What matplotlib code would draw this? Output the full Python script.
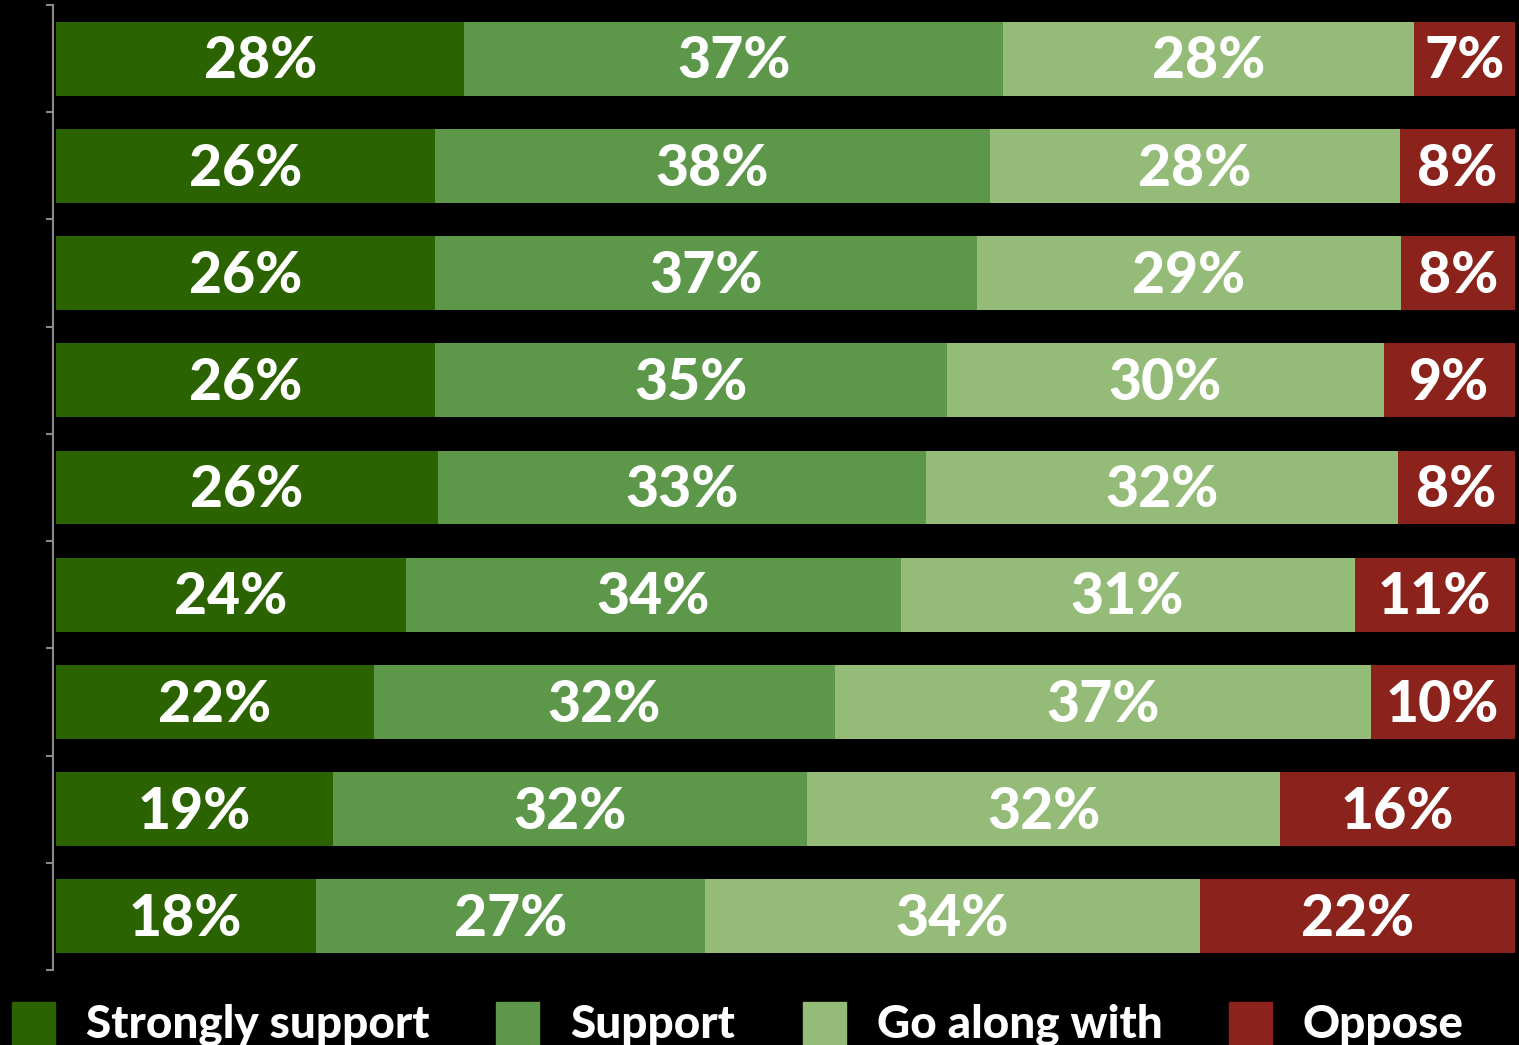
import matplotlib
matplotlib.use('Agg')
import matplotlib.pyplot as plt
from matplotlib.patches import Rectangle
import numpy as np

# Survey responses, one row per bar (top to bottom)
series_names = ['Strongly support', 'Support', 'Go along with', 'Oppose']
strongly_support = [28.0, 26.0, 26.0, 26.0, 26.2, 24.0, 21.8, 19.0, 17.8]
support = [36.9, 38.0, 37.1, 35.1, 33.4, 33.9, 31.6, 32.5, 26.7]
go_along = [28.2, 28.1, 29.1, 29.9, 32.4, 31.1, 36.7, 32.4, 33.9]
oppose = [6.9, 7.9, 7.8, 9.0, 8.0, 11.0, 9.9, 16.1, 21.6]
labels = [
    ['28%', '37%', '28%', '7%'],
    ['26%', '38%', '28%', '8%'],
    ['26%', '37%', '29%', '8%'],
    ['26%', '35%', '30%', '9%'],
    ['26%', '33%', '32%', '8%'],
    ['24%', '34%', '31%', '11%'],
    ['22%', '32%', '37%', '10%'],
    ['19%', '32%', '32%', '16%'],
    ['18%', '27%', '34%', '22%'],
]
colors = ['#2b6300', '#5d984a', '#94bb77', '#8b231c']

plt.rcParams['font.family'] = ['Lato', 'DejaVu Sans']

W, H = 1519, 1045
fig = plt.figure(figsize=(W / 100, H / 100), dpi=100, facecolor='black')
ax = fig.add_axes([53 / W, 75 / H, 1462 / W, 965 / H], facecolor='black')

data = [strongly_support, support, go_along, oppose]
y = np.arange(len(strongly_support))
left = np.zeros(len(y))
for i, vals in enumerate(data):
    vals = np.array(vals)
    ax.barh(y, vals, left=left, height=0.69, color=colors[i], linewidth=0)
    for j in range(len(y)):
        ax.text(left[j] + vals[j] / 2, y[j] + 0.03, labels[j][i], color='white',
                fontsize=41, fontweight='black', ha='center', va='center')
    left += vals

ax.set_xlim(-0.2, 100)
ax.set_ylim(len(y) - 0.5, -0.5)
ax.set_xticks([])
ax.set_yticks([])
ax.set_yticks(np.arange(-0.5, len(y)), minor=True)
ax.tick_params(axis='y', which='minor', length=5, width=1.5, color='#8a8a8a',
               labelleft=False)
for s in ['top', 'right', 'bottom']:
    ax.spines[s].set_visible(False)
ax.spines['left'].set_color('#8a8a8a')
ax.spines['left'].set_linewidth(1.5)

# legend along the bottom edge (cut off at the bottom, as in the original)
legend_x = [12, 496, 803, 1229]
for name, c, lx in zip(series_names, colors, legend_x):
    fig.patches.append(Rectangle((lx / W, 0), 43 / W, 43 / H,
                                 transform=fig.transFigure, color=c))
    fig.text((lx + 74) / W, 7 / H, name, color='white', fontsize=33,
             fontweight='black', ha='left', va='baseline')

fig.savefig('out.png', dpi=100, facecolor='black')
